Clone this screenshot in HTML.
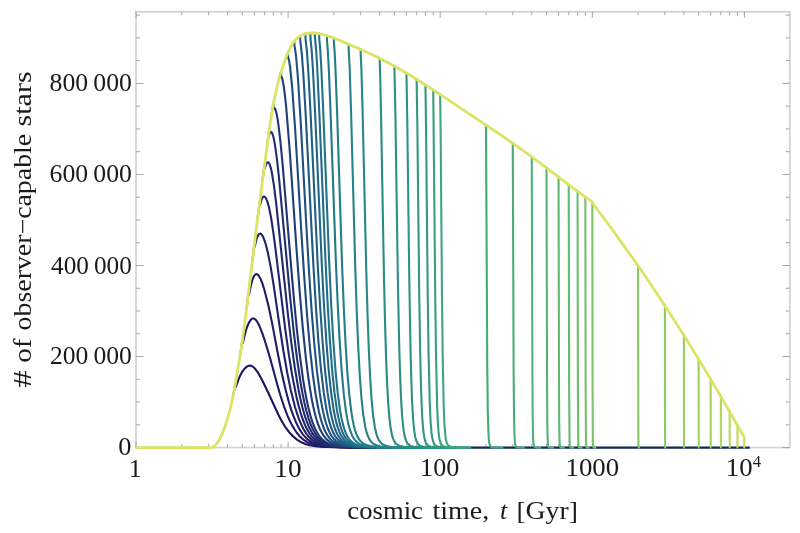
<!DOCTYPE html>
<html><head><meta charset="utf-8"><style>
html,body{margin:0;padding:0;background:#fff;width:800px;height:533px;overflow:hidden}
svg{position:absolute;left:0;top:0}
text{font-family:"Liberation Serif",serif;fill:#1a1a1a}
.lab{opacity:0.995}
</style></head><body>
<svg width="800" height="533" viewBox="0 0 800 533">
<rect width="800" height="533" fill="#fff"/>
<rect x="136.0" y="11.8" width="653.8" height="435.8" fill="none" stroke="#d4d4d4" stroke-width="1.8"/>
<path d="M136 447.6V441.6M136 11.8V17.8M181.79 447.6V444.1M181.79 11.8V15.3M208.57 447.6V444.1M208.57 11.8V15.3M227.57 447.6V444.1M227.57 11.8V15.3M242.31 447.6V444.1M242.31 11.8V15.3M254.36 447.6V444.1M254.36 11.8V15.3M264.54 447.6V444.1M264.54 11.8V15.3M273.36 447.6V444.1M273.36 11.8V15.3M281.14 447.6V444.1M281.14 11.8V15.3M288.1 447.6V441.6M288.1 11.8V17.8M333.89 447.6V444.1M333.89 11.8V15.3M360.67 447.6V444.1M360.67 11.8V15.3M379.67 447.6V444.1M379.67 11.8V15.3M394.41 447.6V444.1M394.41 11.8V15.3M406.46 447.6V444.1M406.46 11.8V15.3M416.64 447.6V444.1M416.64 11.8V15.3M425.46 447.6V444.1M425.46 11.8V15.3M433.24 447.6V444.1M433.24 11.8V15.3M440.2 447.6V441.6M440.2 11.8V17.8M485.99 447.6V444.1M485.99 11.8V15.3M512.77 447.6V444.1M512.77 11.8V15.3M531.77 447.6V444.1M531.77 11.8V15.3M546.51 447.6V444.1M546.51 11.8V15.3M558.56 447.6V444.1M558.56 11.8V15.3M568.74 447.6V444.1M568.74 11.8V15.3M577.56 447.6V444.1M577.56 11.8V15.3M585.34 447.6V444.1M585.34 11.8V15.3M592.3 447.6V441.6M592.3 11.8V17.8M638.09 447.6V444.1M638.09 11.8V15.3M664.87 447.6V444.1M664.87 11.8V15.3M683.87 447.6V444.1M683.87 11.8V15.3M698.61 447.6V444.1M698.61 11.8V15.3M710.66 447.6V444.1M710.66 11.8V15.3M720.84 447.6V444.1M720.84 11.8V15.3M729.66 447.6V444.1M729.66 11.8V15.3M737.44 447.6V444.1M737.44 11.8V15.3M744.4 447.6V441.6M744.4 11.8V17.8M136 447.6H143.5M789.8 447.6H782.3M136 424.84H140M789.8 424.84H785.8M136 402.08H140M789.8 402.08H785.8M136 379.31H140M789.8 379.31H785.8M136 356.55H143.5M789.8 356.55H782.3M136 333.79H140M789.8 333.79H785.8M136 311.03H140M789.8 311.03H785.8M136 288.26H140M789.8 288.26H785.8M136 265.5H143.5M789.8 265.5H782.3M136 242.74H140M789.8 242.74H785.8M136 219.98H140M789.8 219.98H785.8M136 197.21H140M789.8 197.21H785.8M136 174.45H143.5M789.8 174.45H782.3M136 151.69H140M789.8 151.69H785.8M136 128.93H140M789.8 128.93H785.8M136 106.16H140M789.8 106.16H785.8M136 83.4H143.5M789.8 83.4H782.3M136 60.64H140M789.8 60.64H785.8M136 37.88H140M789.8 37.88H785.8M136 15.11H140M789.8 15.11H785.8" stroke="#a4a4a4" stroke-width="1" fill="none"/>
<g fill="none" stroke-width="2.1" stroke-linejoin="round">
<path d="M406.46 447.6H749.73" stroke="rgb(16,44,94)"/>
<path d="M233.34 394.65 L235.35 384 L235.74 387.26 L238.79 378.68 L240.26 375.41 L242.05 372.11 L244.48 368.74 L246.83 366.64 L247.81 366.1 L249.1 365.71 L250.04 365.64 L251.29 365.86 L253.11 366.81 L255.17 368.76 L257.45 371.84 L259.93 375.97 L262.83 381.51 L267.09 390.27 L278.41 414.79 L281.8 421.21 L285.01 426.51 L288.78 431.71 L292.84 436.17 L296.97 439.64 L301.3 442.28 L305.9 444.21 L311.08 445.58 L317.14 446.5 L324.75 447.06 L348.96 447.53 L411.23 447.6" stroke="rgb(32,20,98)"/>
<path d="M240.3 354.24 L242.31 340.62 L242.66 343.24 L245.75 331.04 L247.07 327.01 L248.69 323.11 L250.59 320.02 L251.51 319.1 L252.43 318.58 L253.33 318.44 L254.51 318.81 L255.38 319.48 L256.53 320.8 L258.22 323.55 L260.13 327.62 L262.25 333.07 L264.55 339.8 L269.64 356.46 L277.12 384.01 L280.37 395.26 L284.03 406.52 L287.5 415.61 L289.78 420.72 L292.14 425.38 L294.42 429.28 L296.78 432.73 L299.21 435.71 L301.84 438.34 L304.5 440.47 L307.33 442.24 L311.66 444.16 L316.54 445.51 L322.35 446.42 L329.88 447.01 L353.75 447.52 L411.74 447.6" stroke="rgb(32,25,101)"/>
<path d="M246.6 308.61 L248.61 292.34 L248.93 294.78 L251.12 284.4 L252.35 280.15 L253.55 277.1 L254.43 275.54 L255.31 274.59 L256.17 274.17 L257.02 274.23 L257.86 274.73 L258.69 275.6 L260.59 278.9 L262.44 283.58 L264.23 289.27 L268.4 305.56 L271.64 320.87 L278.31 355.94 L281.69 372.74 L285.47 389.35 L289.04 402.69 L291.26 409.83 L293.41 415.93 L295.65 421.48 L297.81 426.1 L300.06 430.15 L302.51 433.83 L305.01 436.86 L307.69 439.42 L309.75 440.99 L312 442.38 L314.29 443.49 L316.85 444.46 L322.63 445.85 L329.95 446.72 L339.51 447.21 L353.6 447.49 L412.25 447.6" stroke="rgb(32,29,103)"/>
<path d="M252.34 261.09 L254.36 244.32 L254.65 247.05 L256.38 239.69 L257.23 237.18 L258.35 234.92 L259.17 233.97 L259.99 233.6 L260.79 233.76 L261.58 234.39 L263.15 236.89 L264.92 241.53 L266.41 246.67 L267.86 252.63 L270.9 268.14 L273.59 284.92 L280.07 329.26 L283.56 351.73 L287.23 372.73 L290.71 389.72 L294.82 406.18 L296.85 412.94 L298.98 419.05 L301.19 424.42 L303.46 429.04 L305.93 433.12 L308.44 436.43 L310.48 438.59 L312.7 440.49 L314.97 442.02 L317.5 443.34 L320.27 444.42 L323.23 445.26 L330.48 446.44 L339.89 447.09 L353.84 447.45 L412.75 447.6" stroke="rgb(32,34,106)"/>
<path d="M257.63 217.92 L259.64 202.16 L259.91 205.23 L261.52 199.63 L262.3 197.93 L263.08 196.9 L263.59 196.57 L264.35 196.54 L265.11 197.06 L265.85 198.06 L267.32 201.37 L268.99 207.19 L271.07 217.66 L273.31 232.37 L275.91 252.4 L285.37 330.06 L288.95 355.41 L292.5 377.07 L296.5 397.08 L298.49 405.29 L300.57 412.71 L302.72 419.26 L304.94 424.89 L307.22 429.64 L309.69 433.74 L311.69 436.42 L313.87 438.79 L316.1 440.69 L318.59 442.34 L321.31 443.68 L324.23 444.71 L327.52 445.53 L331.38 446.18 L340.67 446.98 L354.47 447.42 L413.25 447.6" stroke="rgb(32,38,108)"/>
<path d="M262.53 180.02 L264.54 164.78 L264.79 168.11 L266.03 164.27 L266.52 163.3 L267.25 162.42 L267.97 162.19 L268.45 162.41 L268.92 162.92 L269.63 164.24 L270.78 167.82 L271.92 172.95 L273.91 185.31 L276.06 202.26 L287.85 313.93 L291.3 342.54 L294.73 367.24 L298.45 389.21 L300.38 398.67 L302.4 407.23 L304.36 414.31 L306.53 420.91 L308.76 426.48 L311.16 431.3 L313.12 434.45 L315.26 437.23 L317.44 439.48 L319.88 441.41 L322.55 442.99 L325.42 444.21 L328.65 445.18 L332.45 445.93 L341.6 446.87 L355.23 447.39 L413.75 447.6" stroke="rgb(32,43,111)"/>
<path d="M267.08 145.66 L269.1 130.83 L269.33 134.48 L270.03 132.75 L270.72 131.93 L271.41 131.99 L272.31 133.34 L273.64 137.77 L274.94 144.62 L276.85 158.33 L278.91 176.78 L290.41 300.11 L293.89 333.1 L297.04 358.91 L300.64 383.1 L302.5 393.52 L304.46 402.94 L306.36 410.75 L308.46 418.03 L310.63 424.18 L312.85 429.27 L314.76 432.81 L316.84 435.93 L318.98 438.45 L321.36 440.63 L323.97 442.41 L326.78 443.78 L330.04 444.9 L333.76 445.74 L342.75 446.79 L356.22 447.37 L374.07 447.57 L414.24 447.6" stroke="rgb(32,47,113)"/>
<path d="M271.35 115.69 L273.36 103.97 L273.58 108.15 L274.24 107.88 L274.88 108.46 L275.53 109.85 L276.37 112.82 L277.42 118.12 L278.45 124.92 L280.46 141.95 L282.79 166.31 L290.87 263.91 L294.17 301.58 L296.85 329.06 L299.42 352.23 L302.89 378.17 L304.7 389.34 L306.46 398.79 L308.3 407.3 L310.34 415.24 L312.33 421.6 L314.49 427.24 L316.36 431.17 L318.39 434.63 L320.59 437.56 L322.91 439.95 L325.47 441.89 L328.21 443.4 L331.4 444.62 L335.05 445.55 L339.08 446.21 L343.95 446.71 L357.21 447.34 L374.82 447.57 L414.72 447.6" stroke="rgb(32,52,116)"/>
<path d="M279.13 78.4 L281.11 71.61 L281.14 75.94 L281.73 76.96 L282.31 78.72 L283.64 85.47 L284.95 95.33 L286.23 107.65 L289.76 151.1 L296.45 248.24 L299.49 289.32 L302.68 326.92 L305.71 356.75 L308.62 379.79 L311.65 398.6 L313.24 406.56 L314.9 413.69 L316.53 419.56 L318.33 424.99 L320.2 429.56 L322.13 433.33 L324.2 436.53 L326.41 439.13 L328.83 441.26 L331.53 442.97 L334.57 444.3 L338.13 445.33 L341.99 446.05 L346.72 446.61 L359.67 447.32 L376.71 447.56 L415.69 447.6" stroke="rgb(31,63,121)"/>
<path d="M286.09 57.36 L288.07 52.57 L288.1 56.92 L289.15 60.95 L290.18 67.68 L292.37 89.79 L295.28 131.2 L301.32 231.72 L304.14 275.6 L307.11 316 L310.09 349.54 L312.93 375.24 L315.77 395.22 L318.83 411.27 L320.47 417.93 L322.28 423.96 L324.04 428.7 L325.86 432.61 L327.82 435.93 L330.01 438.75 L332.3 440.94 L334.96 442.76 L337.92 444.16 L341.32 445.21 L345.14 445.98 L349.74 446.57 L362.21 447.31 L378.69 447.56 L416.64 447.6" stroke="rgb(31,74,126)"/>
<path d="M292.38 43.86 L294.36 41.05 L294.4 45.43 L295.19 49.64 L296.14 57.15 L297.98 78.67 L300.66 121.14 L306.25 224.07 L308.87 269.2 L311.64 310.9 L314.31 344.26 L316.98 371.22 L319.76 392.96 L321.27 402.36 L322.75 410.14 L324.4 417.37 L326.11 423.47 L327.77 428.28 L329.49 432.24 L331.35 435.61 L333.42 438.48 L335.69 440.79 L338.21 442.62 L341.04 444.03 L344.43 445.15 L348.16 445.95 L352.62 446.55 L364.71 447.3 L380.65 447.56 L417.58 447.6" stroke="rgb(31,81,128)"/>
<path d="M298.13 37.37 L300.14 36.05 L300.29 41.23 L301.74 53.17 L303.3 73.33 L305.77 116.07 L313.41 265.89 L316 308.24 L318.49 342.16 L321 369.58 L323.73 392.46 L326.55 409.73 L328.11 417 L329.72 423.15 L331.3 427.98 L332.93 431.98 L334.78 435.52 L336.75 438.38 L338.91 440.69 L341.39 442.57 L344.17 444.01 L347.4 445.12 L351.04 445.93 L355.38 446.54 L367.07 447.3 L382.51 447.56 L418.5 447.6" stroke="rgb(31,89,131)"/>
<path d="M303.42 34.51 L305.43 33.84 L305.57 39.04 L306.91 51.34 L308.22 69.71 L310.52 112.33 L317.65 263.23 L320.08 306.06 L322.54 341.78 L324.9 369.25 L327.48 392.17 L330.23 409.97 L331.71 417.17 L333.24 423.24 L334.73 428.03 L336.37 432.18 L338.13 435.64 L340 438.44 L342.06 440.7 L344.43 442.56 L347.08 443.99 L350.25 445.11 L353.73 445.91 L357.97 446.53 L369.35 447.3 L384.32 447.56 L419.41 447.6" stroke="rgb(31,97,133)"/>
<path d="M308.31 33.21 L310.33 32.98 L310.45 38.18 L311.7 50.7 L312.92 69.23 L315.06 112.05 L321.74 263.11 L324.03 305.94 L326.35 341.64 L328.68 370.12 L331.11 392.74 L333.72 410.31 L335.12 417.41 L336.58 423.41 L338 428.13 L339.55 432.23 L341.23 435.66 L343.1 438.53 L345.14 440.82 L347.4 442.63 L350.01 444.05 L353.04 445.14 L356.45 445.93 L360.58 446.55 L371.56 447.31 L386.08 447.56 L420.31 447.6" stroke="rgb(32,103,134)"/>
<path d="M312.87 32.9 L314.88 33 L315 38.19 L316.05 49.27 L317.19 67.37 L319.2 109.75 L325.5 261.1 L327.76 306 L329.95 341.64 L332.16 370.07 L334.47 392.66 L336.95 410.22 L338.29 417.31 L339.75 423.62 L341.19 428.52 L342.67 432.51 L344.27 435.85 L346.06 438.65 L348.01 440.89 L350.18 442.66 L352.68 444.06 L355.66 445.16 L359 445.95 L362.97 446.56 L373.64 447.31 L387.76 447.56 L421.2 447.6" stroke="rgb(32,110,135)"/>
<path d="M317.13 33.24 L319.15 33.57 L319.26 38.76 L320.24 49.89 L321.21 65.98 L323.1 107.8 L329.15 261.38 L331.29 306.17 L333.36 341.73 L335.46 370.1 L337.66 392.64 L340.11 410.66 L341.39 417.65 L342.79 423.86 L344.16 428.69 L345.58 432.63 L347.11 435.92 L348.82 438.69 L350.69 440.91 L352.84 442.71 L355.31 444.11 L358.18 445.18 L361.39 445.97 L365.28 446.57 L375.66 447.31 L389.39 447.56 L422.07 447.6" stroke="rgb(33,116,135)"/>
<path d="M324.91 34.99 L326.93 35.6 L327.02 40.76 L327.8 50.38 L328.67 65.93 L330.36 107.01 L335.89 262.2 L337.83 306.73 L339.79 343.42 L341.7 371.3 L343.78 394.15 L346.01 411.61 L347.18 418.38 L348.46 424.41 L349.72 429.09 L351.03 432.92 L352.51 436.25 L354.08 438.91 L355.88 441.11 L357.87 442.83 L360.22 444.21 L362.94 445.25 L365.99 446.02 L369.68 446.6 L379.48 447.33 L392.51 447.56 L423.79 447.6" stroke="rgb(33,123,136)"/>
<path d="M331.87 37.3 L333.89 38.06 L333.97 43.18 L334.68 52.76 L335.45 68.21 L336.99 109.02 L342 263.16 L343.85 309.11 L345.64 345.18 L347.39 372.56 L349.3 395 L351.36 412.14 L352.5 419.16 L353.69 424.99 L354.85 429.54 L356.13 433.41 L357.5 436.61 L359.02 439.25 L360.68 441.33 L362.6 443.01 L364.78 444.32 L367.38 445.34 L370.29 446.08 L373.8 446.64 L383.09 447.34 L395.49 447.57 L425.46 447.6" stroke="rgb(35,127,135)"/>
<path d="M346.61 43.35 L348.63 44.21 L348.7 49.25 L349.75 70.07 L351.05 111.43 L355.26 267.6 L356.78 312.44 L358.32 348.88 L359.82 376.19 L361.41 397.5 L363.18 414.2 L365.14 426.24 L366.12 430.49 L367.19 434.12 L368.4 437.24 L369.7 439.69 L371.17 441.69 L372.85 443.29 L374.78 444.52 L377.11 445.49 L379.71 446.19 L382.81 446.72 L391.06 447.36 L402.19 447.57 L429.46 447.6" stroke="rgb(37,132,134)"/>
<path d="M358.66 48.53 L360.64 49.4 L360.67 53.53 L361.49 71.39 L362.58 110.86 L366.3 271.75 L367.63 317.23 L368.94 352.44 L370.23 378.78 L371.59 399.31 L373.11 415.38 L374.84 427.21 L376.66 434.85 L377.72 437.77 L378.89 440.15 L380.17 442.01 L381.68 443.54 L383.41 444.7 L385.5 445.62 L387.84 446.28 L390.62 446.77 L398.03 447.38 L408.13 447.57 L433.24 447.6" stroke="rgb(39,136,133)"/>
<path d="M377.66 57.31 L379.67 58.32 L380.2 76.56 L381.07 116 L383.98 277.51 L385.05 323.12 L386.13 359.11 L387.12 383.65 L388.22 403.3 L389.41 418.01 L390.76 428.82 L392.24 435.93 L393.07 438.57 L394.03 440.79 L395.09 442.52 L396.33 443.91 L397.79 444.99 L399.54 445.82 L403.8 446.87 L410.02 447.4 L440.2 447.6" stroke="rgb(41,141,132)"/>
<path d="M392.4 65.05 L394.41 66.17 L395.39 113.84 L397.85 278.91 L399.17 343.86 L400.09 375.2 L401.08 399.34 L402.22 417.42 L403.52 429.84 L404.77 436.66 L406.29 441.25 L407.19 442.88 L408.23 444.15 L409.48 445.17 L410.98 445.95 L414.63 446.92 L419.97 447.42 L446.5 447.6" stroke="rgb(43,144,130)"/>
<path d="M404.44 71.94 L406.46 73.13 L407.27 119.89 L409.33 281.91 L410.47 346.97 L411.27 378.29 L412.11 401.41 L413.08 418.69 L414.21 430.77 L415.27 437.2 L416.6 441.59 L417.4 443.16 L418.31 444.37 L419.41 445.33 L420.72 446.06 L423.93 446.97 L428.61 447.43 L452.24 447.6" stroke="rgb(46,148,129)"/>
<path d="M414.63 78.09 L416.61 79.31 L417.32 123.22 L419.13 286.46 L420.12 349.82 L420.79 379.39 L421.54 402.73 L422.38 419.51 L423.38 431.42 L424.33 437.7 L425.49 441.86 L426.19 443.34 L427.01 444.52 L427.99 445.44 L429.17 446.15 L432.02 447.01 L436.2 447.45 L457.53 447.6" stroke="rgb(49,151,128)"/>
<path d="M423.45 83.62 L425.46 84.9 L426.07 130.12 L427.63 287 L428.52 351.25 L429.79 403.95 L430.55 420.61 L431.44 432.04 L432.28 438.05 L433.32 442.1 L434.7 444.66 L435.57 445.53 L436.64 446.21 L439.21 447.04 L442.99 447.45 L462.43 447.6" stroke="rgb(51,154,126)"/>
<path d="M431.23 88.63 L433.24 89.94 L435.17 289.18 L435.96 352.55 L437.12 405.09 L437.8 421.31 L438.62 432.61 L439.37 438.38 L440.33 442.32 L441.57 444.77 L442.37 445.62 L443.35 446.27 L445.7 447.06 L449.14 447.46 L466.98 447.6" stroke="rgb(57,159,125)"/>
<path d="M438.19 93.18 L440.17 94.49 L440.66 134.57 L441.96 292.96 L442.67 354.91 L443.72 406.16 L444.33 421.96 L445.07 432.96 L445.77 438.69 L446.64 442.49 L447.79 444.87 L448.52 445.68 L449.41 446.32 L451.57 447.08 L454.73 447.47 L471.25 447.6" stroke="rgb(63,165,124)"/>
<path d="M483.97 123.72 L485.99 125.05 L487.25 364.87 L487.8 411.56 L488.55 435.54 L488.92 440.26 L489.39 443.4 L490.02 445.38 L490.93 446.58 L492.13 447.19 L493.87 447.5 L503.32 447.6" stroke="rgb(70,169,122)"/>
<path d="M510.76 141.77 L512.77 143.16 L513.63 371.42 L514.01 415.28 L514.52 436.98 L515.1 443.91 L515.54 445.65 L516.18 446.71 L517 447.25 L518.21 447.51 L524.81 447.6" stroke="rgb(75,172,120)"/>
<path d="M529.76 155.26 L531.77 156.74 L532.42 375.72 L532.71 417.51 L533.11 437.91 L533.55 444.23 L533.89 445.82 L534.38 446.79 L535.01 447.28 L535.93 447.52 L541.01 447.6" stroke="rgb(81,176,119)"/>
<path d="M544.5 166.27 L546.51 167.79 L547.04 379.31 L547.27 419.38 L547.6 438.69 L547.96 444.49 L548.23 445.96 L548.63 446.86 L549.14 447.31 L549.88 447.53 L554 447.6" stroke="rgb(87,179,117)"/>
<path d="M556.54 175.44 L558.56 176.98 L558.99 381.54 L559.19 420.66 L559.47 439.27 L559.77 444.7 L560.34 446.91 L560.77 447.33 L561.4 447.53 L564.85 447.6" stroke="rgb(94,183,116)"/>
<path d="M566.73 183.2 L568.74 184.72 L569.12 384.23 L569.53 439.78 L569.79 444.88 L570.29 446.95 L570.66 447.34 L571.19 447.53 L574.17 447.6" stroke="rgb(101,186,113)"/>
<path d="M575.55 189.84 L577.56 191.33 L577.89 386.6 L578.26 440.23 L578.49 445.03 L578.93 446.98 L579.25 447.36 L579.72 447.54 L582.34 447.6" stroke="rgb(109,189,111)"/>
<path d="M583.33 195.57 L585.31 197.01 L585.34 199.62 L585.64 388.71 L585.97 440.63 L586.18 445.15 L586.57 447.02 L587.28 447.54 L589.6 447.6" stroke="rgb(117,192,109)"/>
<path d="M590.29 200.57 L592.3 201.99 L592.57 390.11 L592.87 440.95 L593.06 445.27 L593.41 447.04 L594.05 447.54 L596.15 447.6" stroke="rgb(124,195,106)"/>
<path d="M636.07 262.9 L638.09 265.81 L638.35 440.7 L638.61 447.05 L638.93 447.55 L640.04 447.6" stroke="rgb(133,199,104)"/>
<path d="M662.86 302.6 L664.87 305.68 L665.04 442.21 L665.22 447.17 L665.44 447.56 L666.18 447.6" stroke="rgb(142,202,102)"/>
<path d="M681.86 332.16 L683.87 335.36 L684 443.34 L684.13 447.26 L684.3 447.57 L684.86 447.6" stroke="rgb(151,205,100)"/>
<path d="M696.6 355.89 L698.58 359.13 L698.61 360.1 L698.72 444.28 L698.82 447.34 L698.95 447.57 L699.4 447.6" stroke="rgb(160,208,97)"/>
<path d="M708.64 375.8 L710.66 379.17 L710.74 445 L710.83 447.39 L710.94 447.58 L711.31 447.6" stroke="rgb(168,211,95)"/>
<path d="M718.83 392.99 L720.84 396.42 L720.91 445.68 L720.99 447.45 L721.4 447.6" stroke="rgb(176,214,93)"/>
<path d="M727.65 408.14 L729.66 411.63 L729.73 446.25 L729.79 447.49 L730.15 447.6" stroke="rgb(184,216,91)"/>
<path d="M735.43 421.7 L737.44 425.47 L737.5 446.76 L737.56 447.53 L737.88 447.6" stroke="rgb(192,218,88)"/>
<path d="M742.39 433.99 L744.3 437.39 L744.33 447.6 L744.8 447.6" stroke="rgb(200,221,86)"/>
</g>
<path d="M136 447.6 L199.5 447.6 L199.7 447.25 L201.12 447.6 L211.67 447.58 L213.09 446.89 L214.51 445.92 L217.15 443.21 L219.38 439.77 L221.81 434.65 L224.45 427.93 L226.68 421.38 L228.91 413.79 L230.94 405.78 L234.8 387.05 L239.46 359.65 L242.51 339.27 L245.75 315.24 L257.52 218.82 L268.27 136.84 L272.12 110.97 L273.95 100.85 L275.98 91.1 L279.43 77.32 L283.28 64.95 L285.72 58.31 L288.15 52.37 L290.38 47.49 L292.41 43.82 L294.24 41.21 L296.06 39.16 L298.29 37.25 L300.53 35.83 L303.16 34.61 L306.21 33.64 L309.05 33.11 L312.09 32.9 L315.54 33.05 L319.19 33.58 L323.25 34.52 L327.71 35.85 L337.04 39.31 L354.89 46.9 L369.7 53.49 L381.88 59.44 L395.06 66.53 L409.26 74.81 L423.26 83.5 L439.29 93.91 L495.28 131.26 L513.33 143.55 L533.21 157.8 L574.19 188.83 L592.25 201.96 L592.45 203.05 L613.55 231.27 L634.45 260.56 L651.89 286.07 L669.34 312.55 L686.99 340.34 L704.64 369.12 L724.32 402.39 L744.2 437.21 L744.6 437.41" stroke="#dce466" stroke-width="2.8" fill="none" stroke-linejoin="round"/>
<g class="lab">
<text transform="matrix(1.0545 0 0 1.0235 118.35 455.3)" font-size="25">0</text>
<text transform="matrix(1.0244 0 0 1.0294 49.98 364.4)" font-size="25">200&#8201;000</text>
<text transform="matrix(1.0114 0 0 1.0294 51 273.6)" font-size="25">400&#8201;000</text>
<text transform="matrix(1.0295 0 0 1.0176 49.57 182.3)" font-size="25">600&#8201;000</text>
<text transform="matrix(1.0295 0 0 1.0235 49.57 90.9)" font-size="25">800&#8201;000</text>
<text transform="matrix(1.0333 0 0 1.0471 128.63 476.8)" font-size="25">1</text>
<text transform="matrix(1.0864 0 0 1.0471 274.33 476.8)" font-size="25">10</text>
<text transform="matrix(1.0443 0 0 1.0294 420.11 476.4)" font-size="25">100</text>
<text transform="matrix(1.0723 0 0 1.0294 565.56 476.4)" font-size="25">1000</text>
<text transform="matrix(1.0727 0 0 1.0353 725.85 476.4)" font-size="25">10</text>
<text transform="matrix(0.9222 0 0 0.9769 752.8 466.8)" font-size="18">4</text>
<text transform="matrix(1.0681 0 0 1 347.33 519.2)" font-size="25" >cosmic</text>
<text transform="matrix(1.1184 0 0 1 432.5 519.2)" font-size="25" >time,</text>
<text transform="matrix(1.0429 0 0 1 500.06 519.2)" font-size="25" font-style="italic">t</text>
<text transform="matrix(1.1077 0 0 1 516.38 519.2)" font-size="25" >[Gyr]</text>
<text transform="matrix(0 -1.3667 1 0 31 387.6)" font-size="25" >#</text>
<text transform="matrix(0 -1.1650 1 0 31 362.77)" font-size="25" >of</text>
<text transform="matrix(0 -1.1143 1 0 31 330.41)" font-size="25" >observer&#8722;capable</text>
<text transform="matrix(0 -1.2045 1 0 31 126.5)" font-size="25" >stars</text>
</g>
</svg>
</body></html>
